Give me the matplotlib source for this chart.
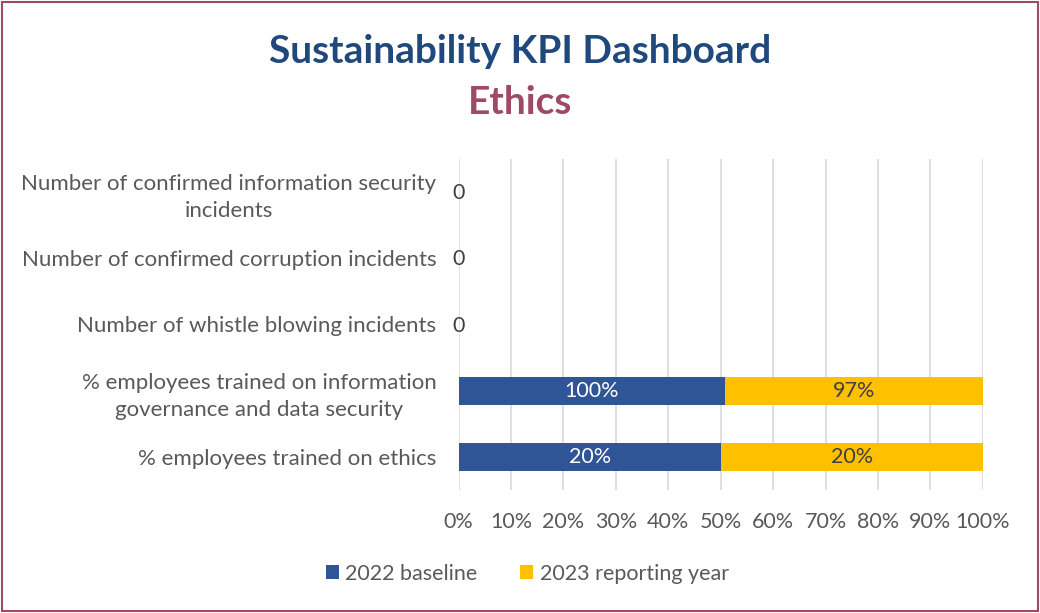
import matplotlib.pyplot as plt
import numpy as np
from matplotlib.patches import Rectangle

# KPI data (bottom to top as drawn)
categories = [
    "% employees trained on ethics",
    "% employees trained on information\ngovernance and data security",
    "Number of whistle blowing incidents",
    "Number of confirmed corruption incidents",
    "Number of confirmed information security\nincidents",
]
baseline_2022 = [20, 100, 0, 0, 0]
reporting_2023 = [20, 97, 0, 0, 0]
is_percent = [True, True, False, False, False]

blue = '#2F5597'
yellow = '#FFC000'
grey_txt = '#595959'
fs = 15.5

plt.rcParams['font.family'] = ['Lato', 'DejaVu Sans']

fig = plt.figure(figsize=(10.4, 6.13), dpi=100, facecolor='white')
ax = fig.add_axes([0.441, 0.2007, 0.504, 0.5404])

b = np.array(baseline_2022, dtype=float)
r = np.array(reporting_2023, dtype=float)
tot = b + r
safe = np.where(tot > 0, tot, 1)
share_b = b / safe * 100
share_r = r / safe * 100

y = np.arange(len(categories))
h = 0.42
ax.barh(y, share_b, height=h, color=blue, label='2022 baseline', zorder=3)
ax.barh(y, share_r, left=share_b, height=h, color=yellow, label='2023 reporting year', zorder=3)

def fmt(v, pct):
    return f"{v:.0f}%" if pct else f"{v:.0f}"

for i in range(len(categories)):
    if tot[i] > 0:
        ax.text(share_b[i] / 2, y[i], fmt(b[i], is_percent[i]), ha='center', va='center',
                color='white', fontsize=fs, zorder=4)
        ax.text(share_b[i] + share_r[i] / 2, y[i], fmt(r[i], is_percent[i]), ha='center', va='center',
                color='#404040', fontsize=fs, zorder=4)
    else:
        ax.text(0, y[i] - 0.02, fmt(b[i], is_percent[i]), ha='center', va='center',
                color='#404040', fontsize=fs, zorder=4)

ax.set_xlim(0, 100)
ax.set_ylim(-0.5, len(categories) - 0.5)
ax.set_xticks(np.arange(0, 101, 10))
ax.set_xticklabels([f"{t}%" for t in range(0, 101, 10)])
ax.set_yticks(y)
ax.set_yticklabels(categories, ha='right', multialignment='center', linespacing=1.45)
ax.tick_params(axis='y', length=0, pad=16, labelsize=16, labelcolor=grey_txt)
ax.tick_params(axis='x', length=0, pad=16, labelsize=fs, labelcolor=grey_txt)
ax.grid(axis='x', color='#D9D9D9', linewidth=1.2, zorder=0)
for s in ax.spines.values():
    s.set_visible(False)

fig.text(0.5, 0.916, "Sustainability KPI Dashboard", ha='center', va='center',
         fontsize=28, fontweight='bold', color='#1F497D')
fig.text(0.5, 0.832, "Ethics", ha='center', va='center',
         fontsize=28, fontweight='bold', color='#9E4A64')

fig.legend(loc='center', bbox_to_anchor=(0.507, 0.064), ncol=2, frameon=False,
           fontsize=fs, labelcolor=grey_txt, handlelength=0.6, handleheight=0.6,
           handletextpad=0.3, columnspacing=2.0)

fig.patches.append(Rectangle((0.002, 0.003), 0.996, 0.994, transform=fig.transFigure,
                             fill=False, edgecolor='#9E4A64', linewidth=1.5))

fig.savefig('out.png', dpi=100, facecolor='white')
